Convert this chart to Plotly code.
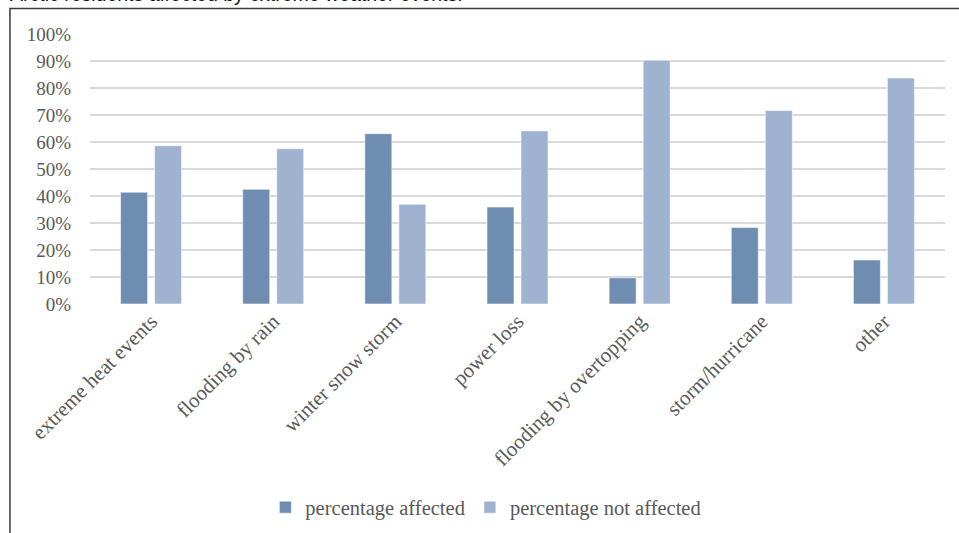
import plotly.graph_objects as go

# Share of respondents affected / not affected by each type of extreme weather event
categories = [
    "extreme heat events",
    "flooding by rain",
    "winter snow storm",
    "power loss",
    "flooding by overtopping",
    "storm/hurricane",
    "other",
]
pct_affected = [41.4, 42.5, 63.1, 35.9, 9.7, 28.3, 16.3]
pct_not_affected = [58.6, 57.5, 36.9, 64.1, 90.3, 71.7, 83.7]
y_ticks = list(range(0, 101, 10))
y_tick_labels = [f"{v}%" for v in y_ticks]

series_names = ["percentage affected", "percentage not affected"]
series_colors = ["#6F8DB0", "#9FB2CF"]

serif = "Liberation Serif, Times New Roman, serif"
gray = "#595959"

fig = go.Figure()
for name, vals, col in zip(series_names, [pct_affected, pct_not_affected], series_colors):
    fig.add_trace(go.Bar(
        x=categories,
        y=vals,
        name=name,
        marker=dict(color=col, line=dict(color="rgba(255,255,255,0.55)", width=1)),
    ))

# outer frame around the chart
fig.add_shape(type="rect", xref="paper", yref="paper",
              x0=-0.0936, x1=1.2, y0=-1.2, y1=1.0944,
              line=dict(color="#3a3a3a", width=1.5), fillcolor="rgba(0,0,0,0)")

# caption above the frame
fig.add_annotation(
    text="Arctic residents affected by extreme weather events.",
    xref="paper", yref="paper", x=-0.0955, y=1.1,
    xanchor="left", yanchor="bottom", showarrow=False,
    font=dict(family="Liberation Sans, Arial, sans-serif", size=19.5, color="#111111"),
)

fig.update_layout(
    width=959, height=533,
    margin=dict(l=90, r=14, t=34, b=229, autoexpand=False),
    plot_bgcolor="white", paper_bgcolor="white",
    barmode="group", bargap=0.443, bargroupgap=0.206,
    font=dict(family=serif, size=19, color=gray),
    showlegend=True,
    legend=dict(orientation="h", x=0.463, xanchor="center", y=-0.753, yanchor="middle",
                font=dict(family=serif, size=20.5, color=gray), itemwidth=30,
                traceorder="normal"),
)
fig.update_xaxes(tickangle=-45, showgrid=False, showline=False, ticks="", automargin=False,
                 tickfont=dict(family=serif, size=21, color=gray))
fig.update_yaxes(range=[0, 100], tickvals=y_ticks, ticktext=y_tick_labels, automargin=False,
                 showgrid=True, gridcolor="#D9D9D9", gridwidth=1.5,
                 zeroline=False, showline=False, ticks="", ticklabelstandoff=18,
                 tickfont=dict(family=serif, size=19, color=gray))

fig.write_html("out.html")
